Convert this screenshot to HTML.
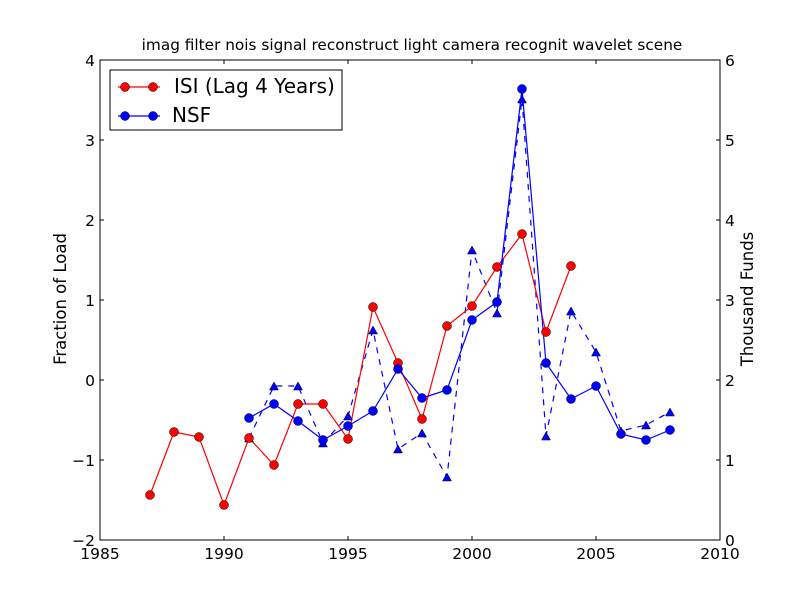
<!DOCTYPE html>
<html><head><style>body{margin:0;background:#fff}svg{display:block}text{font-family:"DejaVu Sans","Liberation Sans",sans-serif}</style></head>
<body>
<svg width="800" height="600" xmlns="http://www.w3.org/2000/svg">
<rect width="800" height="600" fill="#fff"/>
<text x="412" y="50" font-size="15.3" text-anchor="middle">imag filter nois signal reconstruct light camera recognit wavelet scene</text>
<g fill="none" stroke-width="1.2">
<polyline stroke="#00f" stroke-dasharray="6,6" points="249,438 274,386 298,386 323,443 348,416 373,330 398,449 422,433 447,477 472,250 497,313 522,99 546,436 571,311 596,352 621,431 646,425 670,412"/>
<polyline stroke="#f00" points="150,495 174,432 199,437 224,505 249,438 274,465 298,404 323,404 348,439 373,307 398,363 422,419 447,326 472,306 497,267 522,234 546,332 571,266"/>
<polyline stroke="#00f" points="249,418 274,404 298,421 323,440 348,426 373,411 398,369 422,398 447,390 472,320 497,302 522,89 546,363 571,399 596,386 621,434 646,440 670,430"/>
</g>
<g fill="#00f" stroke="#000" stroke-width="0.5">
<path d="M249,434l4.5,8h-9z M274,382l4.5,8h-9z M298,382l4.5,8h-9z M323,439l4.5,8h-9z M348,412l4.5,8h-9z M373,326l4.5,8h-9z M398,445l4.5,8h-9z M422,429l4.5,8h-9z M447,473l4.5,8h-9z M472,246l4.5,8h-9z M497,309l4.5,8h-9z M522,95l4.5,8h-9z M546,432l4.5,8h-9z M571,307l4.5,8h-9z M596,348l4.5,8h-9z M621,427l4.5,8h-9z M646,421l4.5,8h-9z M670,408l4.5,8h-9z"/>
</g>
<g fill="#f00" stroke="#000" stroke-width="0.5">
<circle cx="150" cy="495" r="4.5"/><circle cx="174" cy="432" r="4.5"/><circle cx="199" cy="437" r="4.5"/><circle cx="224" cy="505" r="4.5"/><circle cx="249" cy="438" r="4.5"/><circle cx="274" cy="465" r="4.5"/><circle cx="298" cy="404" r="4.5"/><circle cx="323" cy="404" r="4.5"/><circle cx="348" cy="439" r="4.5"/><circle cx="373" cy="307" r="4.5"/><circle cx="398" cy="363" r="4.5"/><circle cx="422" cy="419" r="4.5"/><circle cx="447" cy="326" r="4.5"/><circle cx="472" cy="306" r="4.5"/><circle cx="497" cy="267" r="4.5"/><circle cx="522" cy="234" r="4.5"/><circle cx="546" cy="332" r="4.5"/><circle cx="571" cy="266" r="4.5"/>
</g>
<g fill="#00f" stroke="#000" stroke-width="0.5">
<circle cx="249" cy="418" r="4.5"/><circle cx="274" cy="404" r="4.5"/><circle cx="298" cy="421" r="4.5"/><circle cx="323" cy="440" r="4.5"/><circle cx="348" cy="426" r="4.5"/><circle cx="373" cy="411" r="4.5"/><circle cx="398" cy="369" r="4.5"/><circle cx="422" cy="398" r="4.5"/><circle cx="447" cy="390" r="4.5"/><circle cx="472" cy="320" r="4.5"/><circle cx="497" cy="302" r="4.5"/><circle cx="522" cy="89" r="4.5"/><circle cx="546" cy="363" r="4.5"/><circle cx="571" cy="399" r="4.5"/><circle cx="596" cy="386" r="4.5"/><circle cx="621" cy="434" r="4.5"/><circle cx="646" cy="440" r="4.5"/><circle cx="670" cy="430" r="4.5"/>
</g>
<rect x="100" y="60" width="620" height="480" fill="none" stroke="#000" stroke-width="1"/>
<g stroke="#000" stroke-width="1">
<path d="M100,540v-4M100,60v4M224,540v-4M224,60v4M348,540v-4M348,60v4M472,540v-4M472,60v4M596,540v-4M596,60v4M720,540v-4M720,60v4"/>
<path d="M100,60h4M100,140h4M100,220h4M100,300h4M100,380h4M100,460h4M100,540h4"/>
<path d="M720,60h-4M720,140h-4M720,220h-4M720,300h-4M720,380h-4M720,460h-4M720,540h-4"/>
</g>
<g font-size="15.5" text-anchor="middle">
<text x="100" y="559">1985</text><text x="224" y="559">1990</text><text x="348" y="559">1995</text><text x="472" y="559">2000</text><text x="596" y="559">2005</text><text x="720" y="559">2010</text>
</g>
<g font-size="15.5" text-anchor="end">
<text x="95" y="66">4</text><text x="95" y="146">3</text><text x="95" y="226">2</text><text x="95" y="306">1</text><text x="95" y="386">0</text><text x="95" y="466">−1</text><text x="95" y="546">−2</text>
</g>
<g font-size="15.5">
<text x="725" y="66">6</text><text x="725" y="146">5</text><text x="725" y="226">4</text><text x="725" y="306">3</text><text x="725" y="386">2</text><text x="725" y="466">1</text><text x="725" y="546">0</text>
</g>
<text transform="translate(66,299) rotate(-90)" font-size="16.5" text-anchor="middle">Fraction of Load</text>
<text transform="translate(753,299) rotate(-90)" font-size="16.5" text-anchor="middle">Thousand Funds</text>
<rect x="110" y="70" width="232" height="60" fill="#fff" stroke="#000"/>
<line x1="118" y1="87" x2="160" y2="87" stroke="#f00" stroke-width="1.2"/>
<circle cx="125" cy="87" r="4.5" fill="#f00" stroke="#000" stroke-width="0.5"/><circle cx="153" cy="87" r="4.5" fill="#f00" stroke="#000" stroke-width="0.5"/>
<line x1="118" y1="116" x2="160" y2="116" stroke="#00f" stroke-width="1.2"/>
<circle cx="125" cy="116" r="4.5" fill="#00f" stroke="#000" stroke-width="0.5"/><circle cx="153" cy="116" r="4.5" fill="#00f" stroke="#000" stroke-width="0.5"/>
<text x="174" y="93" font-size="20">ISI (Lag 4 Years)</text>
<text x="172" y="122" font-size="20">NSF</text>
</svg>
</body></html>
